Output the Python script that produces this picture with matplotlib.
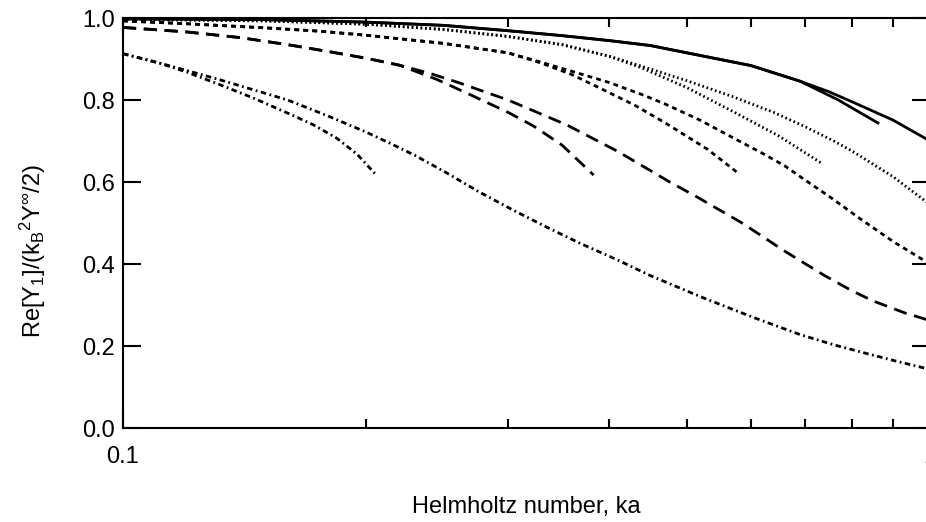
import matplotlib
matplotlib.use('Agg')
import matplotlib.pyplot as plt
from matplotlib.ticker import NullFormatter

# Courbes Re[Y1] en fonction du nombre de Helmholtz (paires complète / tronquée)
ka_solid = [0.1, 0.15, 0.2, 0.25, 0.3, 0.35, 0.4, 0.45, 0.5, 0.6, 0.69, 0.75, 0.8, 0.9, 1.0]
y_solid = [0.998, 0.996, 0.99, 0.982, 0.969, 0.957, 0.945, 0.933, 0.915, 0.884, 0.846, 0.82, 0.796, 0.751, 0.70]
ka_solid_cut = [0.1, 0.15, 0.2, 0.25, 0.3, 0.35, 0.4, 0.45, 0.5, 0.6, 0.69, 0.77, 0.862]
y_solid_cut = [0.998, 0.996, 0.99, 0.982, 0.969, 0.957, 0.945, 0.933, 0.915, 0.884, 0.846, 0.80, 0.744]

ka_dot = [0.1, 0.15, 0.2, 0.25, 0.3, 0.35, 0.4, 0.44, 0.5, 0.57, 0.64, 0.7, 0.76, 0.8, 0.9, 1.0]
y_dot = [0.997, 0.993, 0.985, 0.972, 0.955, 0.935, 0.907, 0.882, 0.847, 0.808, 0.77, 0.735, 0.70, 0.676, 0.613, 0.545]
ka_dot_cut = [0.1, 0.15, 0.2, 0.25, 0.3, 0.35, 0.4, 0.44, 0.5, 0.57, 0.65, 0.735]
y_dot_cut = [0.997, 0.993, 0.985, 0.972, 0.955, 0.935, 0.907, 0.878, 0.83, 0.772, 0.712, 0.645]

ka_sdash = [0.1, 0.12, 0.15, 0.175, 0.2, 0.25, 0.3, 0.33, 0.36, 0.4, 0.44, 0.47, 0.52, 0.58, 0.62,
            0.66, 0.7, 0.75, 0.82, 0.9, 1.0]
y_sdash = [0.993, 0.986, 0.976, 0.968, 0.958, 0.938, 0.915, 0.892, 0.87, 0.843, 0.813, 0.79, 0.75, 0.70, 0.67,
           0.64, 0.605, 0.565, 0.51, 0.455, 0.40]
ka_sdash_cut = [0.1, 0.12, 0.15, 0.175, 0.2, 0.25, 0.3, 0.33, 0.36, 0.39, 0.43, 0.47, 0.53, 0.58]
y_sdash_cut = [0.993, 0.986, 0.976, 0.968, 0.958, 0.938, 0.915, 0.89, 0.862, 0.829, 0.788, 0.744, 0.68, 0.62]

ka_ldash = [0.1, 0.12, 0.14, 0.16, 0.18, 0.2, 0.22, 0.24, 0.26, 0.3, 0.355, 0.41, 0.476, 0.515, 0.585,
            0.66, 0.74, 0.8, 0.85, 0.93, 1.0]
y_ldash = [0.977, 0.966, 0.952, 0.935, 0.918, 0.902, 0.885, 0.865, 0.843, 0.80, 0.739, 0.675, 0.60, 0.563, 0.50,
           0.432, 0.372, 0.335, 0.31, 0.281, 0.262]
ka_ldash_cut = [0.1, 0.12, 0.14, 0.16, 0.18, 0.2, 0.22, 0.245, 0.27, 0.3, 0.323, 0.35, 0.383]
y_ldash_cut = [0.977, 0.966, 0.952, 0.935, 0.918, 0.902, 0.885, 0.85, 0.812, 0.77, 0.736, 0.69, 0.617]

ka_dd = [0.1, 0.111, 0.12, 0.132, 0.145, 0.16, 0.18, 0.2, 0.214, 0.23, 0.252, 0.275, 0.304, 0.335, 0.368,
         0.41, 0.45, 0.52, 0.6, 0.69, 0.76, 0.83, 0.9, 1.0]
y_dd = [0.913, 0.89, 0.872, 0.849, 0.825, 0.80, 0.76, 0.722, 0.695, 0.665, 0.622, 0.578, 0.532, 0.49, 0.451,
        0.41, 0.372, 0.32, 0.272, 0.228, 0.203, 0.183, 0.165, 0.143]
ka_dd_cut = [0.1, 0.111, 0.12, 0.132, 0.145, 0.16, 0.172, 0.184, 0.195, 0.206]
y_dd_cut = [0.913, 0.89, 0.868, 0.837, 0.805, 0.768, 0.74, 0.707, 0.668, 0.617]

x_ticks = [0.1, 1]
x_tick_labels = ['0.1', '1']
x_minor = [0.2, 0.3, 0.4, 0.5, 0.6, 0.7, 0.8, 0.9]
y_ticks = [0.0, 0.2, 0.4, 0.6, 0.8, 1.0]
y_tick_labels = ['0.0', '0.2', '0.4', '0.6', '0.8', '1.0']

plt.rcParams['font.family'] = ['Liberation Sans', 'DejaVu Sans']
plt.rcParams['font.size'] = 17
plt.rcParams['mathtext.fontset'] = 'custom'
plt.rcParams['mathtext.rm'] = 'Liberation Sans'
plt.rcParams['mathtext.it'] = 'Liberation Sans'
plt.rcParams['mathtext.default'] = 'regular'
plt.rcParams['lines.scale_dashes'] = False

fig = plt.figure(figsize=(9.26, 5.22), dpi=100)
ax = fig.add_axes([0.1328, 0.180, 0.8715, 0.7855])

lw = 2.0
solid = '-'
dotted = (0, (1.2, 2.0))
sdash = (0, (3.5, 3.0))
ldash = (0, (9.5, 5.5))
dashdot = (0, (4.0, 2.5, 1.3, 2.5))

ax.plot(ka_solid, y_solid, color='black', lw=lw, ls=solid)
ax.plot(ka_solid_cut, y_solid_cut, color='black', lw=lw, ls=solid)
ax.plot(ka_dot, y_dot, color='black', lw=lw, ls=dotted)
ax.plot(ka_dot_cut, y_dot_cut, color='black', lw=lw, ls=dotted)
ax.plot(ka_sdash, y_sdash, color='black', lw=lw, ls=sdash)
ax.plot(ka_sdash_cut, y_sdash_cut, color='black', lw=lw, ls=sdash)
ax.plot(ka_ldash, y_ldash, color='black', lw=lw, ls=ldash)
ax.plot(ka_ldash_cut, y_ldash_cut, color='black', lw=lw, ls=ldash)
ax.plot(ka_dd, y_dd, color='black', lw=lw, ls=dashdot)
ax.plot(ka_dd_cut, y_dd_cut, color='black', lw=lw, ls=dashdot)

ax.set_xscale('log')
ax.set_xlim(0.1, 1)
ax.set_ylim(0, 1)

ax.set_xticks(x_ticks)
ax.set_xticklabels(x_tick_labels)
ax.set_xticks(x_minor, minor=True)
ax.xaxis.set_minor_formatter(NullFormatter())
ax.set_yticks(y_ticks)
ax.set_yticklabels(y_tick_labels)

ax.tick_params(which='both', direction='in', top=True, right=True, width=1.5)
ax.tick_params(which='major', length=13)
ax.tick_params(which='minor', length=6.5)
ax.tick_params(axis='x', which='major', pad=13)
ax.tick_params(axis='y', which='major', pad=6)
for s in ax.spines.values():
    s.set_linewidth(1.5)

ax.set_xlabel('Helmholtz number, ka', fontsize=17)
ax.xaxis.set_label_coords(0.5, -0.165)
fig.text(0.036, 0.52, r'Re[Y$_1$]/(k$_B$$^2$Y$^\infty$/2)', rotation=90,
         ha='center', va='center', fontsize=17)

fig.savefig('out.png', dpi=100)
